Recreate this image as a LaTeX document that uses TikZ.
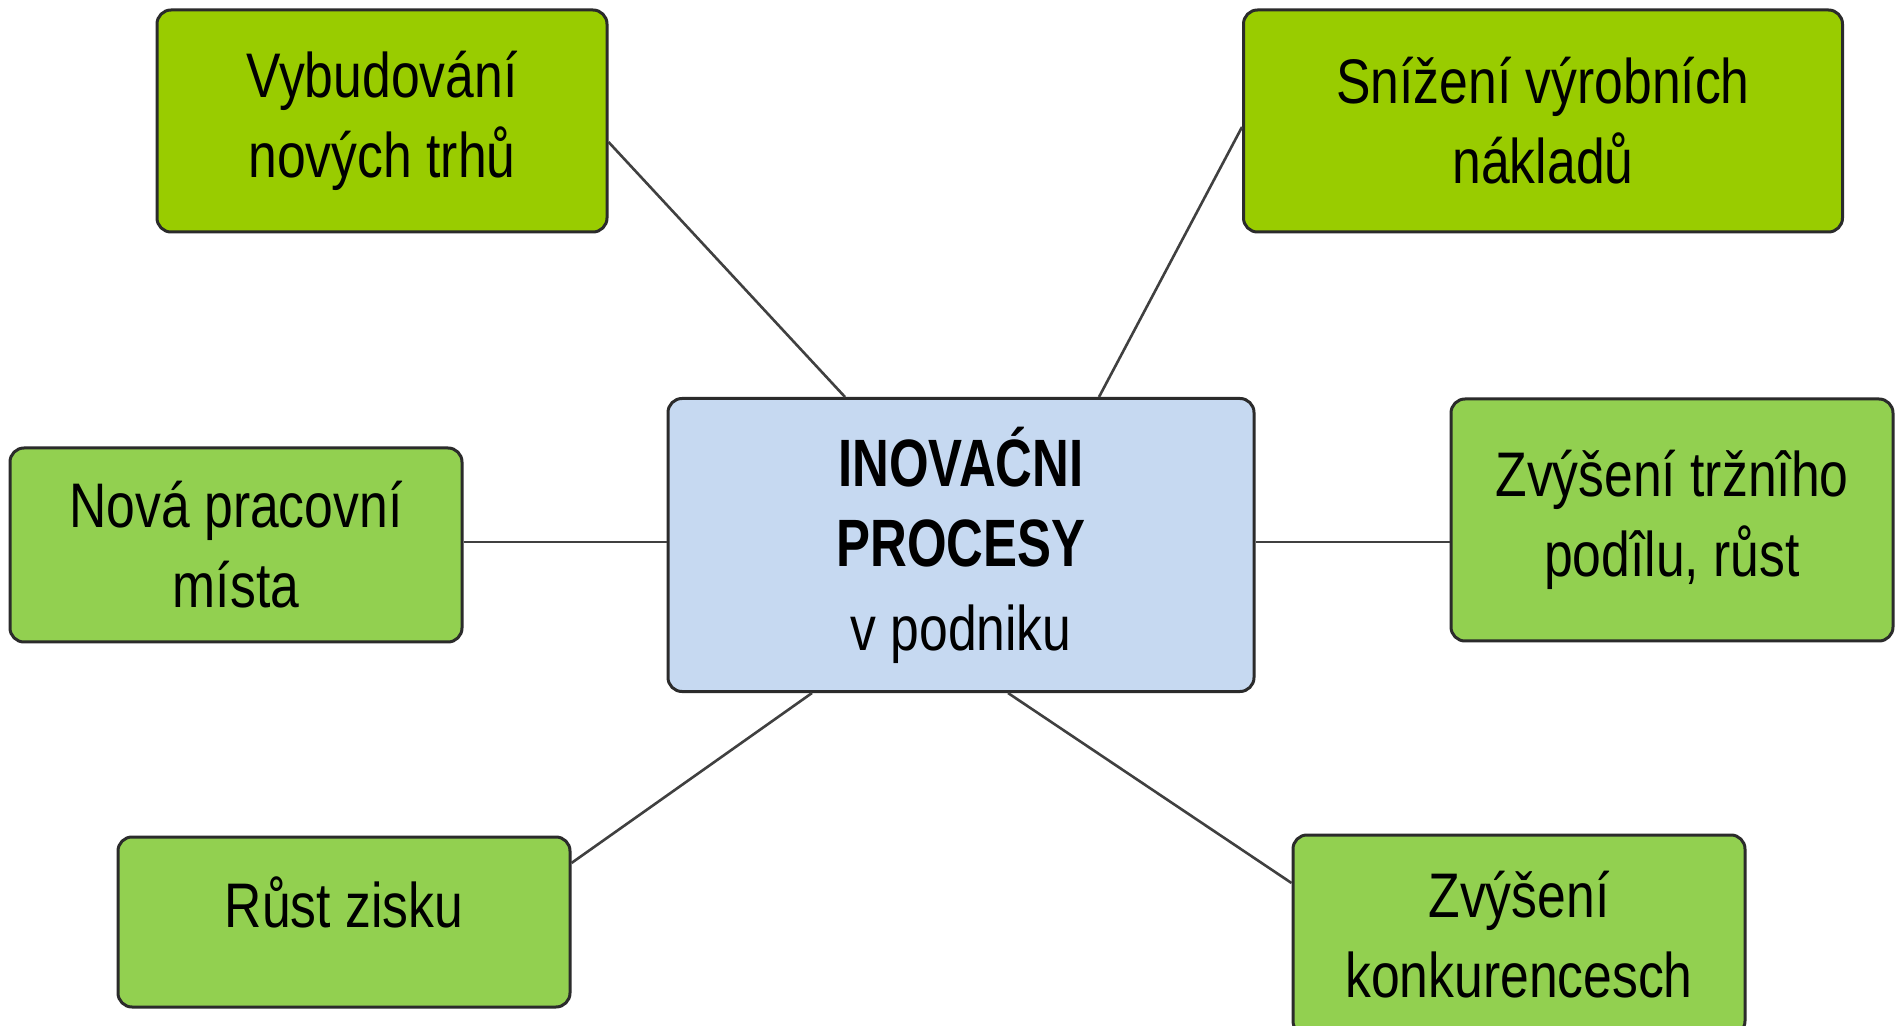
\documentclass[tikz,border=0pt]{standalone}
\usepackage{fontspec}
\setmainfont{Liberation Sans}[FakeStretch=0.82]
\newfontfamily\headfont{Liberation Sans}[FakeStretch=0.76]
\usetikzlibrary{calc}
\definecolor{limebox}{HTML}{99CC00}
\definecolor{greenbox}{HTML}{92D050}
\definecolor{bluebox}{HTML}{C6D9F1}
\definecolor{edgedark}{HTML}{2B2B2B}
\newcommand{\bodysize}{\fontsize{31.5}{40}\selectfont}
\newcommand{\headsize}{\headfont\bfseries\fontsize{33.5}{37}\selectfont}
\begin{document}
\begin{tikzpicture}[x=0.5pt, y=-0.5pt,
  box/.style={draw=edgedark, line width=1.5pt, rounded corners=7pt, align=center,
    inner sep=0pt, font=\bodysize},
  link/.style={draw=edgedark!90, line width=1.3pt}]
  \useasboundingbox[fill=white] (0,0) rectangle (1897,1026);
  % centre box
  \node[box, fill=bluebox, minimum width=293pt, minimum height=146.5pt] (cent) at (961,545)
    {\headsize INOVAĆNI\\\headsize PROCESY\\[2pt]v podniku};
  % outer boxes
  \node[box, fill=limebox, minimum width=225pt, minimum height=111pt] (vyb) at (382,121)
    {Vybudování\\nových trhů};
  \node[box, fill=limebox, minimum width=299.5pt, minimum height=111pt] (sniz) at (1543,121)
    {Snížení výrobních\\nákladů};
  \node[box, fill=greenbox, minimum width=226pt, minimum height=97pt] (nova) at (236,545)
    {Nová pracovní\\místa};
  \node[box, fill=greenbox, minimum width=221pt, minimum height=121pt] (trz) at (1672,520)
    {Zvýšení tržnîho\\podîlu, růst};
  \node[box, fill=greenbox, minimum width=226pt, minimum height=85pt,
    text height=27pt, text depth=22pt] (rust) at (344,922) {Růst zisku};
  \node[box, fill=greenbox, minimum width=226pt, minimum height=100pt] (konk) at (1519,935)
    {Zvýšení\\konkurencesch};
  % links
  \draw[link] ($(vyb.east)+(0,21)$) -- ($(cent.north)+(-116,0)$);
  \draw[link] ($(sniz.west)+(0,6)$) -- ($(cent.north)+(138,0)$);
  \draw[link] ($(nova.east)+(0,-3)$) -- ($(nova.east -| cent.west)+(0,-3)$);
  \draw[link] ($(cent.east)+(0,-3)$) -- ($(cent.east -| trz.west)+(0,-3)$);
  \draw[link] ($(rust.east)+(0,-59)$) -- ($(cent.south)+(-149,0)$);
  \draw[link] ($(cent.south)+(47,0)$) -- ($(konk.west)+(0,-52)$);
\end{tikzpicture}
\end{document}
